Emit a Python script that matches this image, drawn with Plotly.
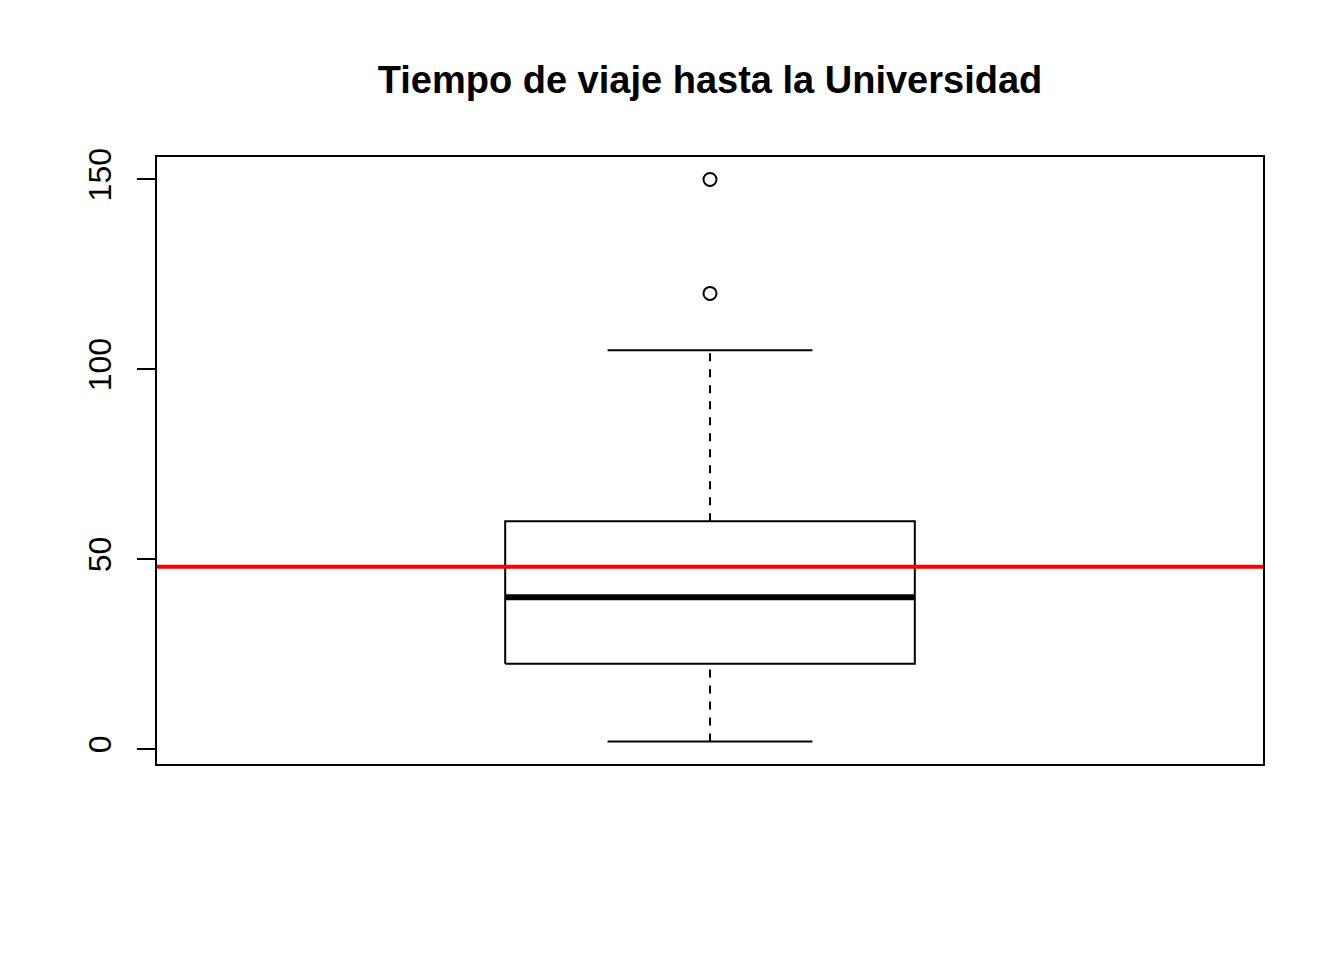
import plotly.graph_objects as go

title = "Tiempo de viaje hasta la Universidad"
whisker_low = 2
q1 = 22.5
median = 40
q3 = 60
whisker_high = 105
outliers = [120, 150]
mean_value = 48
tick_vals = [0, 50, 100, 150]
tick_text = ["0", "50", "100", "150"]

center = 1.0
half_box = 0.2
half_staple = 0.1
x_range = [0.46, 1.54]
y_range = [-3.92, 155.92]

fig = go.Figure()
black = "black"

# Box rectangle
fig.add_trace(go.Scatter(
    x=[center - half_box, center + half_box, center + half_box, center - half_box, center - half_box],
    y=[q1, q1, q3, q3, q1], mode="lines", line=dict(color=black, width=2), hoverinfo="skip"))
# Median
fig.add_trace(go.Scatter(x=[center - half_box, center + half_box], y=[median, median],
                         mode="lines", line=dict(color=black, width=6), hoverinfo="skip"))
# Whiskers (dashed)
fig.add_trace(go.Scatter(x=[center, center], y=[whisker_low, q1], mode="lines",
                         line=dict(color=black, width=2, dash="8px,8px"), hoverinfo="skip"))
fig.add_trace(go.Scatter(x=[center, center], y=[q3, whisker_high], mode="lines",
                         line=dict(color=black, width=2, dash="8px,8px"), hoverinfo="skip"))
# Staples
for v in [whisker_low, whisker_high]:
    fig.add_trace(go.Scatter(x=[center - half_staple, center + half_staple], y=[v, v], mode="lines",
                             line=dict(color=black, width=2), hoverinfo="skip"))
# Outliers
fig.add_trace(go.Scatter(x=[center] * len(outliers), y=outliers, mode="markers",
                         marker=dict(symbol="circle-open", size=13, color=black, line=dict(width=2)),
                         hoverinfo="skip"))
# Mean line
fig.add_trace(go.Scatter(x=x_range, y=[mean_value, mean_value], mode="lines",
                         line=dict(color="#FF0000", width=4), hoverinfo="skip"))

fig.update_layout(
    width=1344, height=960,
    margin=dict(l=157, r=81, t=157, b=196),
    paper_bgcolor="white", plot_bgcolor="white",
    showlegend=False,
    font=dict(family="Liberation Sans, Arial, sans-serif", color="black"),
    title=dict(text="<b>" + title + "</b>", x=0.5, xref="paper", y=1 - 80 / 960, yref="container",
               xanchor="center", yanchor="middle", font=dict(size=38, color="black")),
)
fig.update_xaxes(range=x_range, showgrid=False, zeroline=False, showticklabels=False, ticks="",
                 showline=True, mirror=True, linecolor="black", linewidth=2)
fig.update_yaxes(range=y_range, showgrid=False, zeroline=False, tickvals=tick_vals, ticktext=tick_text,
                 tickangle=-90, ticks="outside", ticklen=18, tickwidth=2, tickcolor="black",
                 tickfont=dict(size=32, color="black"), ticklabelstandoff=13,
                 showline=True, mirror=True, linecolor="black", linewidth=2)

fig.write_html("out.html")
